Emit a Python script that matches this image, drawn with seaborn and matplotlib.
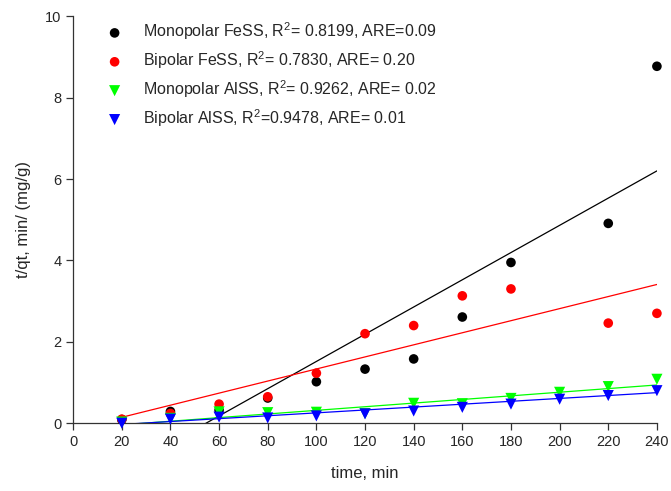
import matplotlib
matplotlib.use("Agg")
import matplotlib.pyplot as plt
import numpy as np
import pandas as pd
import seaborn as sns

sns.set_style("ticks")
plt.rcParams["font.family"] = ["Liberation Sans", "DejaVu Sans"]
plt.rcParams["mathtext.default"] = "regular"

# data
time_fe = [20, 40, 60, 80, 100, 120, 140, 160, 180, 220, 240]
mono_fess = [0.09, 0.29, 0.32, 0.62, 1.02, 1.33, 1.58, 2.61, 3.95, 4.91, 8.77]
bi_fess = [0.10, 0.24, 0.47, 0.65, 1.23, 2.20, 2.40, 3.13, 3.30, 2.46, 2.70]

time_al = [20, 40, 60, 80, 100, 120, 140, 160, 180, 200, 220, 240]
mono_alss = [0.03, 0.12, 0.28, 0.26, 0.27, 0.24, 0.49, 0.48, 0.61, 0.76, 0.90, 1.08]
bi_alss = [0.00, 0.10, 0.15, 0.13, 0.18, 0.23, 0.30, 0.39, 0.47, 0.59, 0.68, 0.80]

# fitted lines (slope, intercept) as drawn on the chart
fit_slope = [0.03344, 0.01483, 0.004455, 0.00355]
fit_intercept = [-1.826, -0.150, -0.1288, -0.10]
fit_range = [20, 240]

labels = [
    "Monopolar FeSS, R$^2$= 0.8199, ARE=0.09",
    "Bipolar FeSS, R$^2$= 0.7830, ARE= 0.20",
    "Monopolar AlSS, R$^2$= 0.9262, ARE= 0.02",
    "Bipolar AlSS, R$^2$=0.9478, ARE= 0.01",
]
colors = ["#000000", "#ff0000", "#00ff00", "#0000ff"]
markers = ["o", "o", "v", "v"]

series = [
    (time_fe, mono_fess),
    (time_fe, bi_fess),
    (time_al, mono_alss),
    (time_al, bi_alss),
]

fig, ax = plt.subplots(figsize=(6.71, 4.91), dpi=100)
fig.subplots_adjust(left=0.109, right=0.979, top=0.967, bottom=0.138)

for i, (t, v) in enumerate(series):
    df = pd.DataFrame({"time": t, "value": v})
    sns.scatterplot(
        data=df, x="time", y="value", ax=ax, color=colors[i], marker=markers[i],
        s=48 if markers[i] == "o" else 64, edgecolor="none", label=labels[i],
        clip_on=False, zorder=3 + i,
    )

for i in range(4):
    xs = np.array(fit_range)
    ax.plot(xs, fit_slope[i] * xs + fit_intercept[i], color=colors[i], lw=0.9, zorder=2)

ax.set_xlim(0, 240)
ax.set_ylim(0, 10)
ax.set_xticks(range(0, 241, 20))
ax.set_yticks(range(0, 11, 2))
ax.tick_params(direction="out", length=5, width=0.9, labelsize=10.5, color="#333333")
for s in ["left", "bottom"]:
    ax.spines[s].set_linewidth(0.9)
    ax.spines[s].set_color("#333333")
sns.despine(ax=ax)

ax.set_xlabel("time, min", fontsize=12, labelpad=12)
ax.set_ylabel("t/qt, min/ (mg/g)", fontsize=12, labelpad=10)

ax.legend(
    loc="upper left", bbox_to_anchor=(0.03, 1.025), frameon=False, fontsize=11.5,
    handletextpad=1.2, labelspacing=0.45, handlelength=1.2, markerscale=1.0,
)

plt.savefig("out.png", dpi=100)
